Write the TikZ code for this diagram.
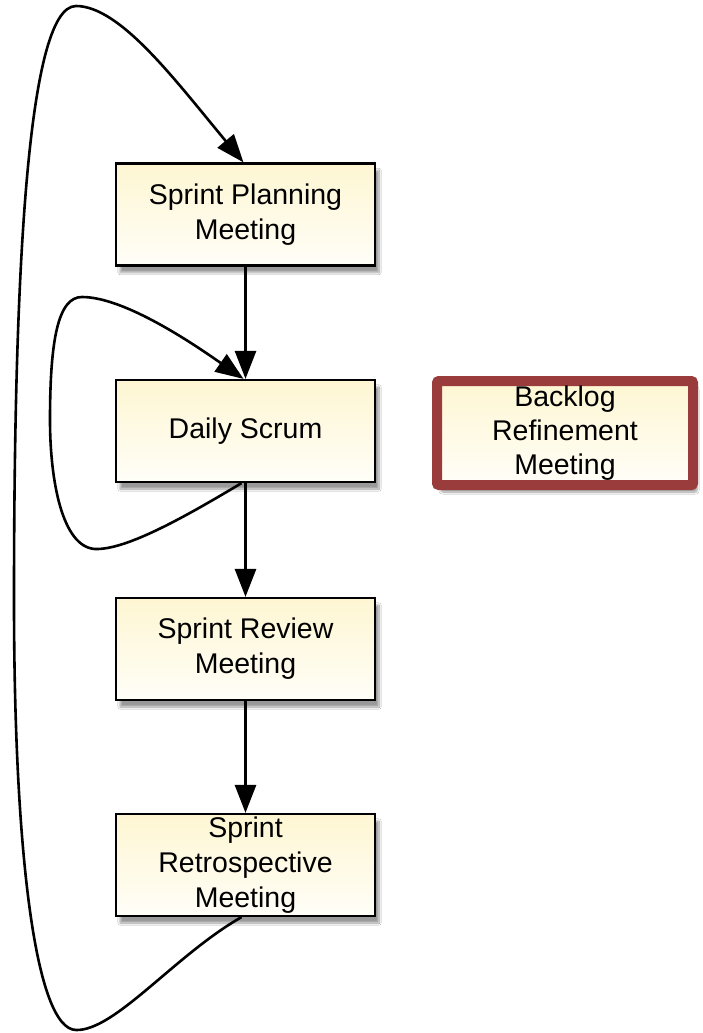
\documentclass[tikz,border=0pt]{standalone}
\usepackage{fontspec}
\setmainfont{Liberation Sans}
\usetikzlibrary{arrows.meta,shadows.blur}
\definecolor{boxtop}{HTML}{FEF6D2}
\definecolor{boxbot}{HTML}{FFFEF8}
\definecolor{redframe}{HTML}{9A3C3C}
\tikzset{
  meeting/.style={draw=black, line width=2.2pt, top color=boxtop, bottom color=boxbot,
    minimum width=259pt, minimum height=102pt, inner sep=0pt, align=center,
    font=\fontsize{28.5}{35}\selectfont,
    blur shadow={shadow xshift=4pt, shadow yshift=-7pt, shadow blur steps=12, shadow opacity=40}},
  refine/.style={meeting, draw=redframe, line width=10pt, rounded corners=2pt,
    minimum width=256pt, minimum height=104pt, font=\fontsize{28.5}{34}\selectfont},
  flow/.style={line width=2.8pt, -{Triangle[length=28pt,width=21pt]}},
  loopline/.style={line width=2.6pt, -{Triangle[length=28pt,width=21pt]}}
}
\begin{document}
\begin{tikzpicture}[x=1pt,y=-1pt]
\useasboundingbox[fill=white] (0,0) rectangle (702,1033);
\node[meeting] (plan) at (245.5,214.5) {Sprint Planning\\Meeting};
\node[meeting] (daily) at (245.5,431) {Daily Scrum};
\node[meeting] (review) at (245.5,649) {Sprint Review\\Meeting};
\node[meeting] (retro) at (245.5,865) {Sprint\\Retrospective\\Meeting};
\node[refine] (backlog) at (565,433) {Backlog\\Refinement\\Meeting};

\coordinate (planin) at ([xshift=-2pt]plan.north);
\coordinate (dailyin) at ([xshift=-2pt]daily.north);
\coordinate (dailyout) at ([xshift=-4pt]daily.south);
\coordinate (retroout) at ([xshift=-4pt]retro.south);

\draw[flow] (plan.south) -- (daily.north);
\draw[flow] (daily.south) -- (review.north);
\draw[flow] (review.south) -- (retro.north);

\draw[loopline] (dailyout) .. controls (180,520) and (125,550) .. (95,549)
  .. controls (62,547) and (50,480) .. (50,420)
  .. controls (50,340) and (58,297) .. (82,297)
  .. controls (125,297) and (195,345) .. (dailyin);

\draw[loopline] (retroout) .. controls (175,955) and (115,1031) .. (76,1030)
  .. controls (35,1029) and (14,850) .. (14,600)
  .. controls (14,300) and (25,6) .. (76,6)
  .. controls (120,6) and (175,80) .. (planin);
\end{tikzpicture}
\end{document}
